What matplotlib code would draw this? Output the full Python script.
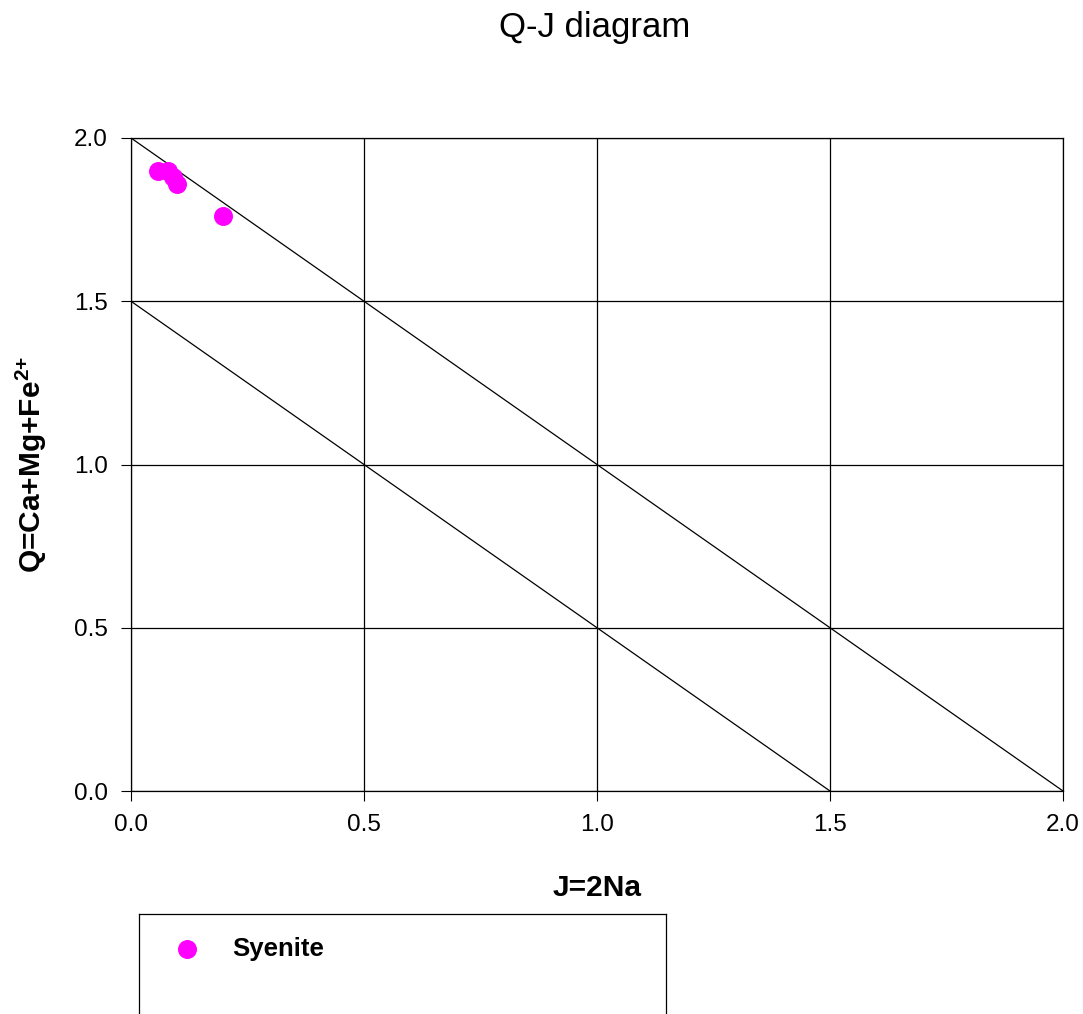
import matplotlib
matplotlib.use('Agg')
import matplotlib.pyplot as plt

plt.rcParams['font.family'] = ['Liberation Sans', 'DejaVu Sans']
plt.rcParams['mathtext.fontset'] = 'custom'
plt.rcParams['mathtext.rm'] = 'Liberation Sans'
plt.rcParams['mathtext.bf'] = 'Liberation Sans:bold'

# syenite samples
J = [0.058, 0.080, 0.090, 0.099, 0.198]
Q = [1.90, 1.90, 1.88, 1.86, 1.76]

# boundary lines Q + J = const
line_hi = [2.0, 0.0]
line_lo = [1.5, 0.0]
line_x_hi = [0.0, 2.0]
line_x_lo = [0.0, 1.5]

ticks = [0.0, 0.5, 1.0, 1.5, 2.0]

fig = plt.figure(figsize=(10.83, 10.14), dpi=100)
ax = fig.add_axes([131/1083, 1 - 791/1014, (1063-131)/1083, (791-138)/1014])

ax.plot(line_x_hi, line_hi, color='black', lw=0.9)
ax.plot(line_x_lo, line_lo, color='black', lw=0.9)
sc = ax.scatter(J, Q, s=160, color='#ff00ff', zorder=3, label='Syenite')

ax.set_xlim(0, 2)
ax.set_ylim(0, 2)
ax.set_xticks(ticks)
ax.set_yticks(ticks)
ax.set_xticklabels(['%.1f' % t for t in ticks])
ax.set_yticklabels(['%.1f' % t for t in ticks])
ax.grid(True, color='black', lw=0.9)
ax.tick_params(labelsize=17.5, length=7.5, color='black', pad=9)
for s in ax.spines.values():
    s.set_linewidth(0.9)

ax.set_xlabel('J=2Na', fontsize=21.5, fontweight='bold', labelpad=27.5)
ax.set_ylabel(r'Q=Ca+Mg+Fe$^{\mathbf{2{+}}}$', fontsize=21.5, fontweight='bold', labelpad=18)
fig.text(595/1083, 1 - 28/1014, 'Q-J diagram', fontsize=25, ha='center', va='center')

# legend box
lax = fig.add_axes([139/1083, 1 - 1040/1014, (666-139)/1083, (1040-914)/1014])
lax.set_xticks([])
lax.set_yticks([])
lax.set_xlim(0, 527)
lax.set_ylim(126, 0)
for s in lax.spines.values():
    s.set_linewidth(0.9)
lax.scatter([48], [35], s=160, color='#ff00ff')
lax.text(93, 35, 'Syenite', fontsize=18.5, fontweight='bold', va='center')

fig.savefig('out.png', dpi=100)
